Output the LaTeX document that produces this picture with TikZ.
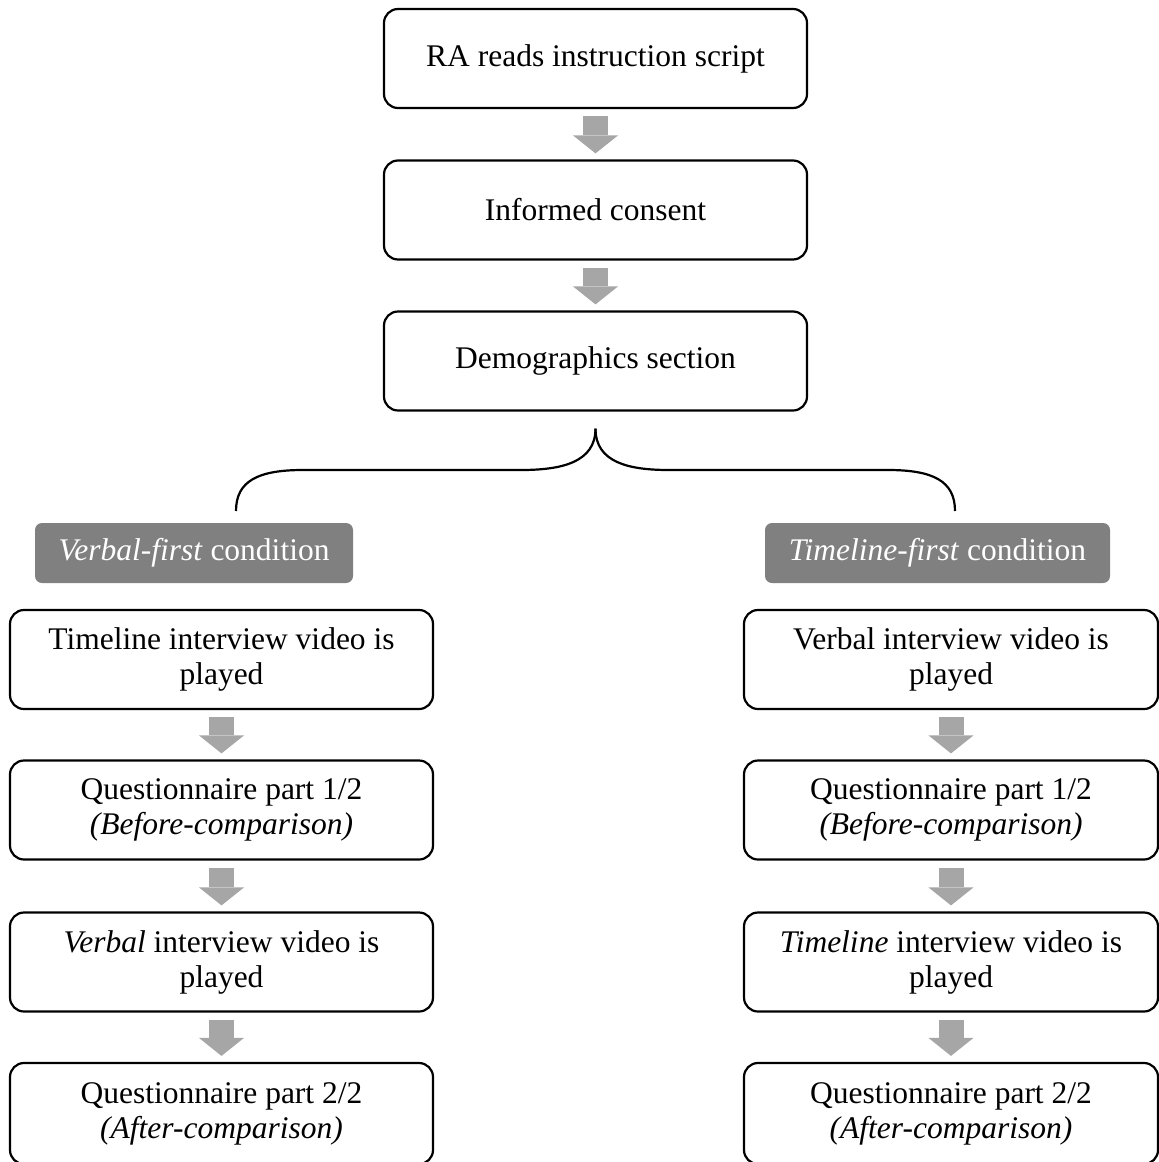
\documentclass[tikz,border=0pt]{standalone}
\usepackage{fontspec}
\setmainfont{Liberation Serif}
\usetikzlibrary{arrows.meta,calc}
\definecolor{labelgray}{RGB}{128,128,128}
\definecolor{arrowgray}{RGB}{166,166,166}
\begin{document}
\begin{tikzpicture}[x=1pt,y=1pt,
	stepbox/.style={draw,line width=2.2pt,rounded corners=14pt,minimum height=99pt,align=center,inner sep=0pt,font=\fontsize{31.5}{35}\selectfont},
	condlabel/.style={fill=labelgray,text=white,rounded corners=7pt,minimum height=60pt,inner sep=0pt,font=\fontsize{31.5}{35}\selectfont},
	flow/.style={line width=25pt,arrowgray,-{Triangle[width=45pt,length=18pt,line width=0pt]},shorten <=7pt,shorten >=6pt},
	brace/.style={line width=2.2pt}]
	\useasboundingbox (0,0) rectangle (1159,-1162);
	\node[stepbox,minimum width=423pt] (ra) at (595.5,-58.5) {RA reads instruction script};
	\node[stepbox,minimum width=423pt] (consent) at (595.5,-210) {Informed consent};
	\node[stepbox,minimum width=423pt] (demo) at (595.5,-361) {Demographics section};
	\draw[flow] (ra) -- (consent);
	\draw[flow] (consent) -- (demo);
	\node[condlabel,minimum width=318pt] (verbalfirst) at (194,-553) {\textit{Verbal-first} condition};
	\node[condlabel,minimum width=345pt] (timelinefirst) at (937.5,-553) {\textit{Timeline-first} condition};
	\coordinate (bracetip) at ($(demo.south)+(0,-17)$);
	\coordinate (braceleft) at (236,-511);
	\coordinate (braceright) at (955,-511);
	\draw[brace] (bracetip) .. controls +(0,-34) and +(40,0) .. (521,-470) -- (303,-470) .. controls +(-45,0) and +(0,30) .. (braceleft);
	\draw[brace] (bracetip) .. controls +(0,-34) and +(-40,0) .. (669,-470) -- (888,-470) .. controls +(45,0) and +(0,30) .. (braceright);
	\node[stepbox,minimum width=423pt] (vone) at (221.5,-659.5) {Timeline interview video is\\played};
	\node[stepbox,minimum width=423pt] (vtwo) at (221.5,-810) {Questionnaire part 1/2\\\textit{(Before-comparison)}};
	\node[stepbox,minimum width=423pt] (vthree) at (221.5,-962) {\textit{Verbal} interview video is\\played};
	\node[stepbox,minimum width=423pt,minimum height=101pt] (vfour) at (221.5,-1113.5) {Questionnaire part 2/2\\\textit{(After-comparison)}};
	\draw[flow] (vone) -- (vtwo);
	\draw[flow] (vtwo) -- (vthree);
	\draw[flow] (vthree) -- (vfour);
	\node[stepbox,minimum width=414pt] (tone) at (951,-659.5) {Verbal interview video is\\played};
	\node[stepbox,minimum width=414pt] (ttwo) at (951,-810) {Questionnaire part 1/2\\\textit{(Before-comparison)}};
	\node[stepbox,minimum width=414pt] (tthree) at (951,-962) {\textit{Timeline} interview video is\\played};
	\node[stepbox,minimum width=414pt,minimum height=101pt] (tfour) at (951,-1113.5) {Questionnaire part 2/2\\\textit{(After-comparison)}};
	\draw[flow] (tone) -- (ttwo);
	\draw[flow] (ttwo) -- (tthree);
	\draw[flow] (tthree) -- (tfour);
\end{tikzpicture}
\end{document}
